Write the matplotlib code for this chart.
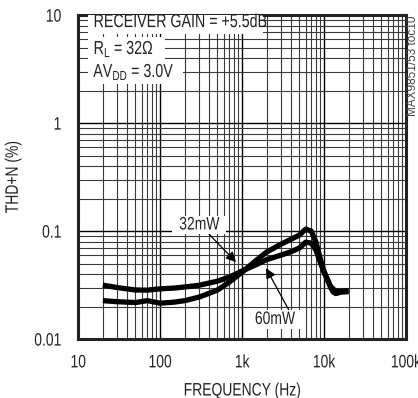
import matplotlib
matplotlib.use("Agg")
from matplotlib import pyplot as plt
from matplotlib.ticker import LogLocator, FixedLocator, FixedFormatter, NullFormatter
from matplotlib.patheffects import AbstractPathEffect
from matplotlib.transforms import Affine2D

plt.rcParams['font.family'] = ['Liberation Sans', 'DejaVu Sans']
plt.rcParams['mathtext.fontset'] = 'custom'
plt.rcParams['mathtext.rm'] = 'Liberation Sans'

# THD+N vs frequency
freq = [20, 30, 50, 70, 100, 150, 200, 300, 500, 700, 1000, 1500, 2000, 3000,
        4000, 5000, 6000, 7000, 8000, 9000, 10000, 12000, 13000, 14000, 16000, 20000]
thd_32mw = [0.0227, 0.0222, 0.0218, 0.0227, 0.0215, 0.0220, 0.0227, 0.0245, 0.0284, 0.0337,
            0.0417, 0.0538, 0.0640, 0.0758, 0.0843, 0.0918, 0.1044, 0.100, 0.079, 0.056,
            0.0427, 0.0303, 0.0272, 0.0264, 0.0272, 0.0275]
thd_60mw = [0.0316, 0.0300, 0.0285, 0.0284, 0.0292, 0.0297, 0.0304, 0.0315, 0.0344, 0.0375,
            0.0427, 0.0490, 0.0544, 0.0600, 0.0646, 0.0697, 0.0790, 0.0774, 0.0667, 0.0516,
            0.0417, 0.0310, 0.0290, 0.0278, 0.0278, 0.0280]

x_ticks = [10, 100, 1000, 10000, 100000]
x_labels = ["10", "100", "1k", "10k", "100k"]
y_ticks = [0.01, 0.1, 1, 10]
y_labels = ["0.01", "0.1", "1", "10"]


# squeeze text horizontally (the original uses a narrow font)
class Squeeze(AbstractPathEffect):
    def __init__(self, sx=0.77, anchor="left"):
        super().__init__()
        self.sx = sx
        self.anchor = anchor

    def draw_path(self, renderer, gc, tpath, affine, rgbFace=None):
        ext = tpath.get_extents()
        if self.anchor == "center":
            cx = (ext.x0 + ext.x1) / 2
        elif self.anchor == "right":
            cx = ext.x1
        else:
            cx = ext.x0
        t = Affine2D().translate(-cx, 0).scale(self.sx, 1).translate(cx, 0)
        renderer.draw_path(gc, tpath, t + affine, rgbFace)


fig = plt.figure(figsize=(4.18, 3.98), dpi=100)
ax = fig.add_axes([0.187, 0.148, 0.784, 0.814])

ax.plot(freq, thd_32mw, color="black", lw=3.8, solid_capstyle="butt", zorder=3)
ax.plot(freq, thd_60mw, color="black", lw=3.8, solid_capstyle="butt", zorder=3)

ax.set_xscale("log")
ax.set_yscale("log")
ax.set_xlim(10, 100000)
ax.set_ylim(0.01, 10)

ax.xaxis.set_major_locator(FixedLocator(x_ticks))
ax.xaxis.set_major_formatter(FixedFormatter(x_labels))
ax.yaxis.set_major_locator(FixedLocator(y_ticks))
ax.yaxis.set_major_formatter(FixedFormatter(y_labels))
ax.xaxis.set_minor_locator(LogLocator(base=10, subs=range(2, 10), numticks=20))
ax.yaxis.set_minor_locator(LogLocator(base=10, subs=range(2, 10), numticks=20))
ax.xaxis.set_minor_formatter(NullFormatter())
ax.yaxis.set_minor_formatter(NullFormatter())

ax.grid(True, which="major", color="black", lw=1.0)
ax.grid(True, which="minor", color="#3a3a3a", lw=0.8)
ax.tick_params(which="both", length=0, labelsize=13, colors="#222222")
ax.tick_params(axis="x", pad=11)
ax.tick_params(axis="y", pad=12)
for s in ax.spines.values():
    s.set_linewidth(2.2)
    s.set_color("#222222")

xl = ax.set_xlabel("FREQUENCY (Hz)", fontsize=13, color="#222222", labelpad=8)
yl = ax.set_ylabel("THD+N (%)", fontsize=13, color="#222222")
ax.yaxis.set_label_coords(-0.172, 0.5)
xl.set_path_effects([Squeeze(0.77, "center")])
yl.set_path_effects([Squeeze(0.77, "center")])

notes = ["RECEIVER GAIN = +5.5dB",
         r"R$_\mathregular{L}$ = 32$\Omega$",
         r"AV$_\mathregular{DD}$ = 3.0V"]
note_y = [0.977, 0.895, 0.824]
note_w = [0.535, 0.235, 0.29]
for s, yy, w in zip(notes, note_y, note_w):
    # white patch behind each line (text is squeezed, so size box by hand)
    ax.add_patch(plt.Rectangle((0.03, yy - 0.036), w, 0.072, transform=ax.transAxes,
                               facecolor="white", edgecolor="none", zorder=4))
    t = ax.text(0.046, yy, s, transform=ax.transAxes, fontsize=13.5,
                va="center", ha="left", color="#222222", zorder=5)
    t.set_path_effects([Squeeze(0.76, "left")])

t = ax.text(300, 0.114, "32mW", fontsize=13, color="#222222", ha="center", va="center",
            bbox=dict(facecolor="white", edgecolor="none", pad=0.5), zorder=5)
t.set_path_effects([Squeeze(0.77, "center")])
t = ax.text(2520, 0.0152, "60mW", fontsize=13, color="#222222", ha="center", va="center",
            bbox=dict(facecolor="white", edgecolor="none", pad=0.5), zorder=5)
t.set_path_effects([Squeeze(0.77, "center")])

arrow = dict(arrowstyle="-|>", color="black", lw=0.9, mutation_scale=15, shrinkA=0, shrinkB=0)
ax.annotate("", xy=(845, 0.0516), xytext=(374, 0.098), arrowprops=arrow, zorder=4)
ax.annotate("", xy=(1963, 0.0454), xytext=(3846, 0.0178), arrowprops=arrow, zorder=4)

fig.text(0.988, 0.962, "MAX9851/53 toc10", rotation=90, fontsize=8.5, color="#444444",
         ha="center", va="top")

fig.canvas.draw()
for lab in ax.get_xticklabels():
    lab.set_path_effects([Squeeze(0.77, "center")])
for lab in ax.get_yticklabels():
    lab.set_path_effects([Squeeze(0.77, "right")])

fig.savefig("out.png", dpi=100)
